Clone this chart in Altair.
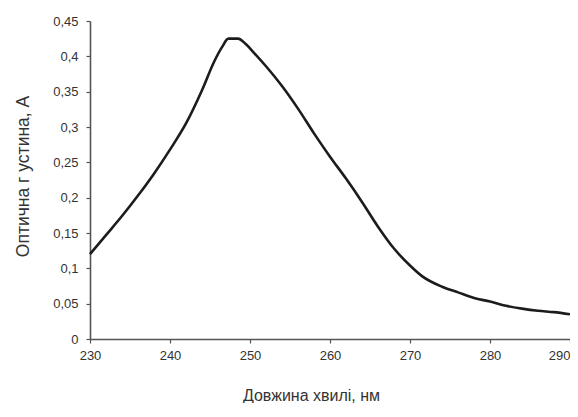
import altair as alt
import pandas as pd

wavelength = [230, 232, 234, 236, 238, 240, 242, 244, 245.5, 246.5, 247.3, 248.5,
              249.5, 250.5, 252, 254, 256, 258, 260, 262, 264, 266, 268, 270,
              271.5, 274, 276, 278, 280, 282, 284, 286, 288, 290]
absorbance = [0.120, 0.147, 0.174, 0.203, 0.234, 0.268, 0.305, 0.352, 0.392, 0.413,
              0.425, 0.425, 0.417, 0.405, 0.386, 0.358, 0.326, 0.291, 0.258, 0.227,
              0.194, 0.159, 0.128, 0.104, 0.089, 0.074, 0.066, 0.058, 0.053, 0.047,
              0.043, 0.040, 0.038, 0.035]
x_ticks = [230, 240, 250, 260, 270, 280, 290]
y_ticks = [0, 0.05, 0.1, 0.15, 0.2, 0.25, 0.3, 0.35, 0.4, 0.45]

df = pd.DataFrame({"wl": wavelength, "a": absorbance})

FONT = "Liberation Sans Narrow, Liberation Sans, Arial"

chart = alt.Chart(df).mark_line(
    color="#1c1c1c", strokeWidth=2.6, interpolate="monotone"
).encode(
    x=alt.X("wl:Q",
            scale=alt.Scale(domain=[230, 290], nice=False, zero=False),
            axis=alt.Axis(values=x_ticks, title="Довжина хвилі, нм",
                          grid=False, tickSize=4, labelPadding=6,
                          labelFlush=False, labelOverlap=False,
                          labelAlign={"condition": {"test": "datum.value == 290",
                                                    "value": "right"},
                                      "value": "center"},
                          labelFontSize=13, titleFontSize=16,
                          titleFontWeight="normal",
                          titleX=221, titleY=56, titleAnchor="start",
                          titleAlign="center", titleBaseline="middle")),
    y=alt.Y("a:Q",
            scale=alt.Scale(domain=[0, 0.45], nice=False),
            axis=alt.Axis(values=y_ticks, title="Оптична г устина, А",
                          grid=False, tickSize=4, labelPadding=8,
                          labelFlush=False, labelOverlap=False,
                          labelFontSize=13, titleFontSize=17.5,
                          titleFontWeight="normal",
                          labelExpr="replace(format(datum.value, '.2~f'), '.', ',')",
                          titleX=-67, titleY=155, titleAngle=-90,
                          titleAlign="center", titleBaseline="middle")),
).properties(
    width=480, height=318,
    autosize=alt.AutoSizeParams(type="none"),
    padding={"left": 82, "top": 13, "right": 0, "bottom": 64},
).configure_axis(
    domainColor="#555555", domainWidth=1.6, tickColor="#555555", tickWidth=1.2,
    labelColor="#333333", titleColor="#333333",
    labelFont=FONT, titleFont=FONT,
).configure_view(stroke=None)

chart.save("out.html", embed_options={"renderer": "svg", "actions": False})
